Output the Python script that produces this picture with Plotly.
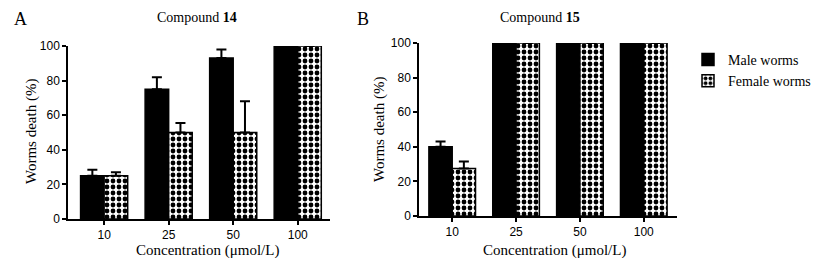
import plotly.graph_objects as go

categories = ["10", "25", "50", "100"]

# Compound 14
c14_male = [25, 75, 93, 100]
c14_male_err = [3.5, 7, 5, 0]
c14_female = [25, 50, 50, 100]
c14_female_err = [2, 5.5, 18, 0]

# Compound 15
c15_male = [40, 100, 100, 100]
c15_male_err = [3, 0, 0, 0]
c15_female = [27.5, 100, 100, 100]
c15_female_err = [4, 0, 0, 0]

# page has an 8px body margin; figure is sized to fit the 821x266 window
OFF = 8
W, H = 821 - 2 * OFF, 266 - 2 * OFF
serif = "Liberation Serif"
sans = "Liberation Sans"


def px(x):
    return (x - OFF) / W


def py(y):
    return 1 - (y - OFF) / H


fig = go.Figure()


def add_pair(male, male_err, female, female_err, xa, ya, show):
    fig.add_trace(go.Bar(
        x=categories, y=male, name="Male worms", showlegend=show,
        legendgroup="m", xaxis=xa, yaxis=ya,
        marker=dict(color="black", line=dict(color="black", width=1.5)),
        error_y=dict(type="data", array=male_err, arrayminus=[0] * 4,
                     symmetric=False, color="black", thickness=2, width=5),
    ))
    fig.add_trace(go.Bar(
        x=categories, y=female, name="Female worms", showlegend=show,
        legendgroup="f", xaxis=xa, yaxis=ya,
        marker=dict(color="white", line=dict(color="black", width=1.5),
                    pattern=dict(shape=".", fgcolor="black", bgcolor="white",
                                 size=6, solidity=0.5, fillmode="replace")),
        error_y=dict(type="data", array=female_err, arrayminus=[0] * 4,
                     symmetric=False, color="black", thickness=2, width=5),
    ))


add_pair(c14_male, c14_male_err, c14_female, c14_female_err, "x", "y", True)
add_pair(c15_male, c15_male_err, c15_female, c15_female_err, "x2", "y2", False)

axis_common = dict(showline=True, linecolor="black", linewidth=1.5,
                   ticks="outside", tickcolor="black", tickwidth=1.5, ticklen=4,
                   showgrid=False, zeroline=False, automargin=False,
                   tickfont=dict(family=sans, size=12, color="black"))

fig.update_layout(
    width=W, height=H,
    margin=dict(l=0, r=0, t=0, b=0, autoexpand=False),
    paper_bgcolor="white", plot_bgcolor="white",
    barmode="group", bargap=0.27, bargroupgap=0,
    xaxis=dict(domain=[px(68), px(330)], anchor="y", type="category",
               range=[-0.56, 3.5], **axis_common),
    yaxis=dict(domain=[py(219), py(46)], anchor="x", range=[0, 100],
               tickvals=[0, 20, 40, 60, 80, 100], **axis_common),
    xaxis2=dict(domain=[px(419), px(677)], anchor="y2", type="category",
                range=[-0.52, 3.52], **axis_common),
    yaxis2=dict(domain=[py(216), py(43)], anchor="x2", range=[0, 100],
                tickvals=[0, 20, 40, 60, 80, 100], **axis_common),
    legend=dict(x=px(688), y=py(44), xanchor="left", yanchor="top",
                font=dict(family=serif, size=14, color="black"),
                bgcolor="rgba(0,0,0,0)", tracegroupgap=0, itemwidth=30),
    showlegend=True,
)

ann = [
    dict(text="A", x=px(20), y=py(19), font=dict(family=serif, size=18)),
    dict(text="B", x=px(363), y=py(19), font=dict(family=serif, size=18)),
    dict(text="Compound <b>14</b>", x=px(197), y=py(17), font=dict(family=serif, size=14)),
    dict(text="Compound <b>15</b>", x=px(540), y=py(17), font=dict(family=serif, size=14)),
    dict(text="Concentration (μmol/L)", x=px(207), y=py(250), font=dict(family=serif, size=15)),
    dict(text="Concentration (μmol/L)", x=px(554), y=py(250), font=dict(family=serif, size=15)),
    dict(text="Worms death (%)", x=px(31), y=py(132), textangle=-90, font=dict(family=serif, size=15)),
    dict(text="Worms death (%)", x=px(379), y=py(130), textangle=-90, font=dict(family=serif, size=15)),
]
for a in ann:
    a.update(xref="paper", yref="paper", showarrow=False, xanchor="center", yanchor="middle")
    a["font"]["color"] = "black"
    fig.add_annotation(**a)

fig.write_html("out.html")
